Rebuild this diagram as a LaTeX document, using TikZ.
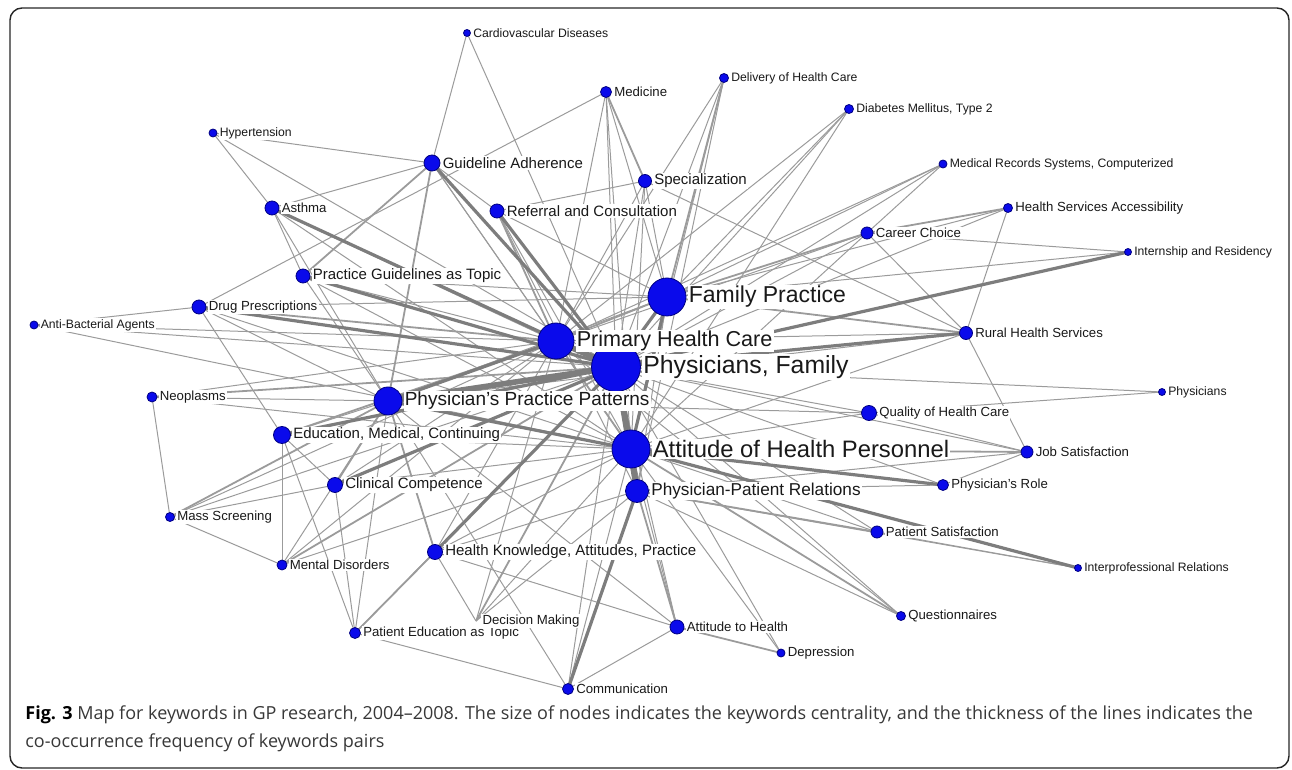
\documentclass[tikz,border=0pt]{standalone}
\usepackage{fontspec}
\setmainfont{Liberation Sans}
\newfontfamily\capfont{Open Sans}
\usetikzlibrary{positioning, backgrounds}
\definecolor{nodeblue}{RGB}{10,10,235}
\definecolor{nodeline}{RGB}{0,0,130}
\definecolor{linkgray}{RGB}{155,155,155}
\definecolor{linkdark}{RGB}{125,125,125}
\tikzstyle{kw} = [circle, inner sep=0pt, fill=nodeblue, draw=nodeline, line width=0.4pt]
\tikzstyle{txt} = [inner sep=0.6pt, fill=white, text=black!90, anchor=west]
\tikzstyle{txtT} = [txt, font=\fontsize{6.1}{7}\selectfont]
\tikzstyle{txtS} = [txt, font=\fontsize{6.6}{7.5}\selectfont]
\tikzstyle{txtM} = [txt, font=\fontsize{7.5}{8.5}\selectfont]
\tikzstyle{thin} = [linkgray, line width=0.5pt]
\tikzstyle{mid} = [linkgray, line width=0.9pt]
\tikzstyle{thick} = [linkdark, line width=1.6pt]
\tikzstyle{heavy} = [linkdark, line width=2.8pt]
\tikzstyle{captxt} = [anchor=base west, inner sep=0pt, text=black!78, font=\capfont\fontsize{9}{10}\selectfont]

\begin{document}
\begin{tikzpicture}[x=0.5pt, y=-0.5pt]
    \useasboundingbox (0,0) rectangle (1292,770);
    \draw [black!85, line width=0.7pt, rounded corners=6pt] (10,8) rectangle (1289,768);

    % keyword nodes
    \node (card) [kw, minimum size=3.5pt] at (467,33) {};
    \node (med) [kw, minimum size=5.5pt] at (606,92) {};
    \node (deliv) [kw, minimum size=4.5pt] at (724,78) {};
    \node (diab) [kw, minimum size=4.5pt] at (849,109) {};
    \node (hyper) [kw, minimum size=4pt] at (213,133) {};
    \node (ga) [kw, minimum size=8pt] at (432,163) {};
    \node (spec) [kw, minimum size=6.5pt] at (645,181) {};
    \node (medrec) [kw, minimum size=4pt] at (943,164) {};
    \node (asth) [kw, minimum size=7pt] at (272,208) {};
    \node (refcon) [kw, minimum size=7pt] at (497,211) {};
    \node (career) [kw, minimum size=6pt] at (867,233) {};
    \node (hsa) [kw, minimum size=4.5pt] at (1008,208) {};
    \node (intern) [kw, minimum size=3.5pt] at (1128,252) {};
    \node (pgt) [kw, minimum size=7pt] at (303,276) {};
    \node (fp) [kw, minimum size=19pt] at (667,297) {};
    \node (drug) [kw, minimum size=7pt] at (199,307) {};
    \node (anti) [kw, minimum size=4pt] at (34,325) {};
    \node (phc) [kw, minimum size=18pt] at (556,341) {};
    \node (rural) [kw, minimum size=6.5pt] at (966,333) {};
    \node (pf) [kw, minimum size=24.5pt] at (616,367) {};
    \node (ppp) [kw, minimum size=14pt] at (388,401) {};
    \node (neo) [kw, minimum size=5pt] at (152,397) {};
    \node (phys) [kw, minimum size=3.5pt] at (1162,392) {};
    \node (qual) [kw, minimum size=7.5pt] at (869,413) {};
    \node (edu) [kw, minimum size=8.5pt] at (282,435) {};
    \node (ahp) [kw, minimum size=19pt] at (631,449) {};
    \node (job) [kw, minimum size=6pt] at (1027,452) {};
    \node (clin) [kw, minimum size=7.5pt] at (335,485) {};
    \node (role) [kw, minimum size=5.5pt] at (943,485) {};
    \node (mass) [kw, minimum size=4.5pt] at (170,517) {};
    \node (ppr) [kw, minimum size=11.5pt] at (637,491) {};
    \node (patsat) [kw, minimum size=6pt] at (877,532) {};
    \node (hkap) [kw, minimum size=7.5pt] at (435,552) {};
    \node (inter) [kw, minimum size=3.5pt] at (1078,568) {};
    \node (mental) [kw, minimum size=5pt] at (282,565) {};
    \node (quest) [kw, minimum size=4.5pt] at (901,616) {};
    \coordinate (dec) at (476,621);
    \node (atth) [kw, minimum size=7pt] at (677,627) {};
    \node (patedu) [kw, minimum size=5.5pt] at (355,633) {};
    \node (dep) [kw, minimum size=4pt] at (781,653) {};
    \node (comm) [kw, minimum size=5.5pt] at (568,689) {};

    % keyword labels
    \node (cardT) [txtT, right=0.4pt of card] {Cardiovascular Diseases};
    \node (medT) [txtS, right=0.4pt of med] {Medicine};
    \node (delivT) [txtT, right=0.4pt of deliv] {Delivery of Health Care};
    \node (diabT) [txtT, right=0.4pt of diab] {Diabetes Mellitus, Type 2};
    \node (hyperT) [txtT, right=0.4pt of hyper] {Hypertension};
    \node (gaT) [txtM, right=0.4pt of ga] {Guideline Adherence};
    \node (specT) [txtM, right=0.4pt of spec] {Specialization};
    \node (medrecT) [txtT, right=0.4pt of medrec] {Medical Records Systems, Computerized};
    \node (asthT) [txtS, right=0.4pt of asth] {Asthma};
    \node (refconT) [txtM, right=0.4pt of refcon] {Referral and Consultation};
    \node (careerT) [txtS, right=0.4pt of career] {Career Choice};
    \node (hsaT) [txtS, right=0.4pt of hsa] {Health Services Accessibility};
    \node (internT) [txtT, right=0.4pt of intern] {Internship and Residency};
    \node (pgtT) [txtM, right=0.4pt of pgt] {Practice Guidelines as Topic};
    \node (drugT) [txtS, right=0.4pt of drug] {Drug Prescriptions};
    \node (antiT) [txtT, right=0.4pt of anti] {Anti-Bacterial Agents};
    \node (ruralT) [txtS, right=0.4pt of rural] {Rural Health Services};
    \node (neoT) [txtS, right=0.4pt of neo] {Neoplasms};
    \node (physT) [txtT, right=0.4pt of phys] {Physicians};
    \node (qualT) [txtS, right=0.4pt of qual] {Quality of Health Care};
    \node (eduT) [txtM, right=0.4pt of edu] {Education, Medical, Continuing};
    \node (jobT) [txtS, right=0.4pt of job] {Job Satisfaction};
    \node (clinT) [txtM, right=0.4pt of clin] {Clinical Competence};
    \node (roleT) [txtS, right=0.4pt of role] {Physician's Role};
    \node (massT) [txtS, right=0.4pt of mass] {Mass Screening};
    \node (patsatT) [txtS, right=0.4pt of patsat] {Patient Satisfaction};
    \node (hkapT) [txtM, right=0.4pt of hkap] {Health Knowledge, Attitudes, Practice};
    \node (interT) [txtT, right=0.4pt of inter] {Interprofessional Relations};
    \node (mentalT) [txtS, right=0.4pt of mental] {Mental Disorders};
    \node (questT) [txtS, right=0.4pt of quest] {Questionnaires};
    \node (pateduT) [txtS, right=0.4pt of patedu] {Patient Education as Topic};
    \node (decT) [txtS, right=2.5pt of dec] {Decision Making};
    \node (atthT) [txtS, right=0.4pt of atth] {Attitude to Health};
    \node (depT) [txtS, right=0.4pt of dep] {Depression};
    \node (commT) [txtS, right=0.4pt of comm] {Communication};
    \node (pprT) [txt, font=\fontsize{8.6}{9.5}\selectfont, right=0.4pt of ppr] {Physician-Patient Relations};
    \node (pppT) [txt, font=\fontsize{9.5}{10.5}\selectfont, right=0.4pt of ppp] {Physician's Practice Patterns};
    \node (phcT) [txt, font=\fontsize{10.8}{12}\selectfont, right=0.4pt of phc] {Primary Health Care};
    \node (fpT) [txt, font=\fontsize{11.5}{13}\selectfont, right=0.4pt of fp] {Family Practice};
    \node (pfT) [txt, font=\fontsize{12.4}{14}\selectfont, right=0.4pt of pf] {Physicians, Family};
    \node (ahpT) [txt, font=\fontsize{11.9}{13}\selectfont, right=0.4pt of ahp] {Attitude of Health Personnel};

    % co-occurrence links
    \begin{pgfonlayer}{background}
    \foreach \a/\b in {card/ga, card/pf, med/phc, med/pf, med/fp, med/ahp, med/drug,
        deliv/pf, deliv/ahp, deliv/phc, deliv/ppr, diab/pf, diab/fp, diab/phc, diab/ahp,
        medrec/pf, medrec/fp, medrec/career, medrec/phc, hsa/fp, hsa/rural, hsa/pf,
        intern/fp, intern/career, career/pf, career/phc, career/ahp, rural/phc, rural/ahp,
        rural/job, rural/ppp, rural/career, phys/qual, phys/pf, qual/pf, qual/ahp, qual/job,
        qual/ppp, job/pf, job/role, job/ppr, role/pf, role/ppr, patsat/ahp, patsat/pf,
        patsat/inter, inter/ppr, quest/pf, quest/ppr, quest/phc, dep/pf, dep/ahp,
        atth/ahp, atth/pf, atth/hkap, atth/comm, atth/ppp, comm/ahp, comm/pf, comm/patedu,
        comm/ppp, patedu/ppp, patedu/pf, patedu/clin, patedu/edu, dec/ahp, dec/phc,
        dec/hkap, dec/ppr, hkap/ahp, hkap/ppr, hkap/phc, mental/ahp, mental/phc,
        mental/ppp, mental/edu, mental/mass, mass/neo, mass/pf, mass/phc, mass/clin,
        clin/ahp, clin/phc, clin/edu, edu/ppp, edu/ahp, edu/drug, neo/ppp, neo/phc,
        neo/ahp, anti/drug, anti/pf, anti/phc, anti/ahp, drug/ppp, drug/ahp, drug/fp,
        pgt/phc, pgt/ppp, pgt/ahp, pgt/fp, asth/pgt, asth/ahp, asth/ppp, asth/ga,
        ga/phc, ga/refcon, ga/hyper, ga/ahp, hyper/asth, hyper/pf, refcon/fp,
        refcon/ahp, refcon/spec, refcon/ppr, spec/pf, spec/fp, spec/phc, spec/rural,
        spec/ahp, fp/ppr, fp/ppp}
        \draw [thin] (\a.center) -- (\b.center);
    \foreach \a/\b in {med/spec, deliv/fp, ga/pgt, hsa/career, drug/phc, job/ahp,
        patsat/ppr, dep/atth, atth/ppr, ga/ppp, asth/phc, refcon/phc, career/fp,
        rural/fp, phc/ahp, fp/phc, hkap/ppp, mental/pf, patedu/hkap, dec/pf, quest/ahp,
        clin/ppp, edu/phc, neo/pf, mass/ppp}
        \draw [mid] (\a.center) -- (\b.center);
    \foreach \a/\b in {pf/fp, phc/ppp, ppp/ahp, pgt/pf, ga/pf, asth/pf, refcon/pf,
        drug/pf, intern/pf, rural/pf, role/ahp, inter/ahp, hkap/pf, clin/pf, edu/pf,
        fp/ahp, comm/ppr}
        \draw [thick] (\a.center) -- (\b.center);
    \foreach \a/\b in {pf/ppp, pf/ahp, pf/phc, ahp/ppr, pf/ppr}
        \draw [heavy] (\a.center) -- (\b.center);
    \end{pgfonlayer}

    % caption
    \node (cap1) [captxt] at (25,719)
        {\textbf{\color{black}Fig. 3} Map for keywords in GP research, 2004–2008. The size of nodes indicates the keywords centrality, and the thickness of the lines indicates the};
    \node (cap2) [captxt] at (25,747)
        {co-occurrence frequency of keywords pairs};
\end{tikzpicture}
\end{document}
